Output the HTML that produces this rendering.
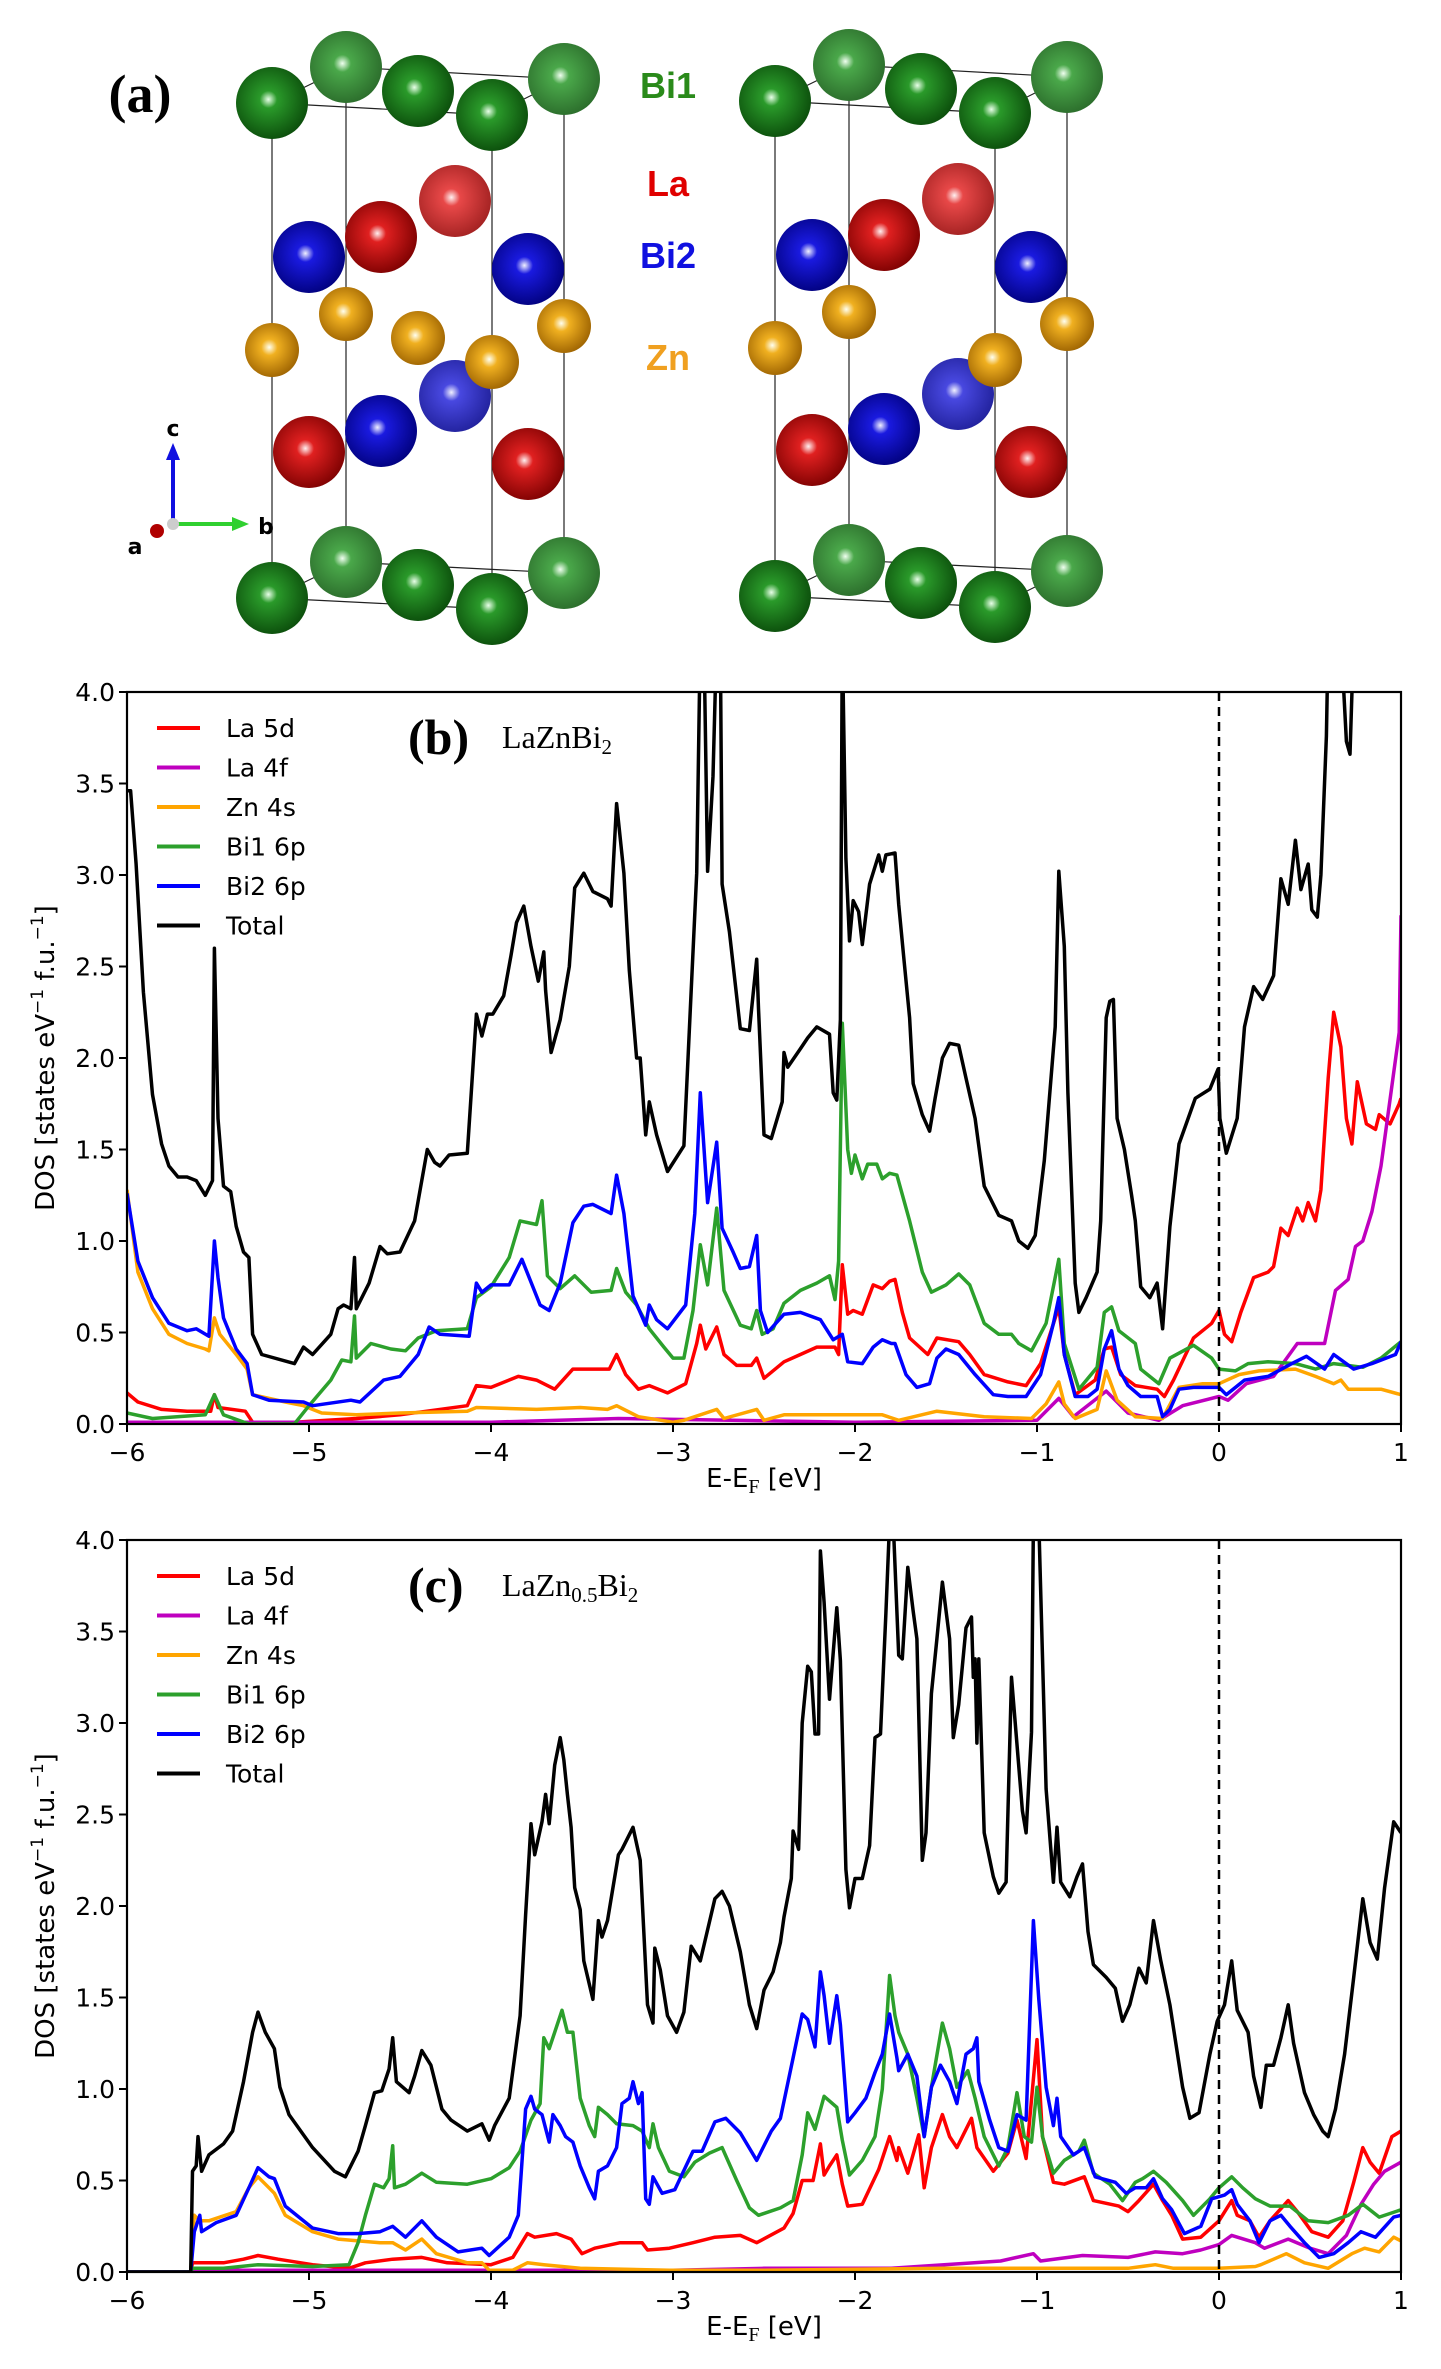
<!DOCTYPE html>
<html><head><meta charset="utf-8"><style>
html,body{margin:0;padding:0;background:#fff;}
svg{display:block;}
text{font-family:"DejaVu Sans","Liberation Sans",sans-serif;}
</style></head><body>
<svg id="fig" width="1441" height="2369" viewBox="0 0 1441 2369" xmlns="http://www.w3.org/2000/svg">
<defs>
<radialGradient id="gDG" cx="0.45" cy="0.45" r="0.6"><stop offset="0" stop-color="#e8ffe8"/><stop offset="0.2" stop-color="#2a9a2a"/><stop offset="1" stop-color="#0a4a0a"/></radialGradient>
<radialGradient id="gLG" cx="0.45" cy="0.45" r="0.6"><stop offset="0" stop-color="#f0fff0"/><stop offset="0.2" stop-color="#4aa84a"/><stop offset="1" stop-color="#2a6a2a"/></radialGradient>
<radialGradient id="gR" cx="0.45" cy="0.45" r="0.6"><stop offset="0" stop-color="#fff0f0"/><stop offset="0.2" stop-color="#e02020"/><stop offset="1" stop-color="#7a0000"/></radialGradient>
<radialGradient id="gLR" cx="0.45" cy="0.45" r="0.6"><stop offset="0" stop-color="#fff0f0"/><stop offset="0.2" stop-color="#e84848"/><stop offset="1" stop-color="#a02020"/></radialGradient>
<radialGradient id="gB" cx="0.45" cy="0.45" r="0.6"><stop offset="0" stop-color="#f0f0ff"/><stop offset="0.2" stop-color="#1a1ae0"/><stop offset="1" stop-color="#00007a"/></radialGradient>
<radialGradient id="gLB" cx="0.45" cy="0.45" r="0.6"><stop offset="0" stop-color="#f0f0ff"/><stop offset="0.2" stop-color="#4848e0"/><stop offset="1" stop-color="#20209a"/></radialGradient>
<radialGradient id="gZ" cx="0.45" cy="0.45" r="0.6"><stop offset="0" stop-color="#fffff0"/><stop offset="0.25" stop-color="#f0b020"/><stop offset="1" stop-color="#9a6000"/></radialGradient>
<clipPath id="clipB"><rect x="127" y="692" width="1274" height="732"/></clipPath>
<clipPath id="clipC"><rect x="127" y="1540" width="1274" height="732"/></clipPath>
</defs>
<g id="panelA"></g>
<g id="panelB"></g>
<g id="panelC"></g>
</svg>
<script>
// ---------- Panel (b) LaZnBi2 data: [energy eV, DOS] ----------
const bTotal=[[-6,3.46],[-5.98,3.46],[-5.95,3.06],[-5.91,2.36],[-5.86,1.8],[-5.81,1.53],[-5.77,1.41],[-5.72,1.35],[-5.67,1.35],[-5.62,1.33],[-5.57,1.25],[-5.53,1.33],[-5.52,2.6],[-5.5,1.67],[-5.47,1.3],[-5.43,1.27],[-5.4,1.08],[-5.36,0.94],[-5.33,0.91],[-5.31,0.49],[-5.26,0.38],[-5.08,0.33],[-5.03,0.42],[-4.98,0.38],[-4.88,0.49],[-4.84,0.63],[-4.81,0.65],[-4.77,0.63],[-4.75,0.91],[-4.74,0.63],[-4.67,0.77],[-4.61,0.97],[-4.57,0.93],[-4.5,0.94],[-4.42,1.11],[-4.35,1.5],[-4.31,1.43],[-4.28,1.41],[-4.23,1.47],[-4.13,1.48],[-4.08,2.24],[-4.05,2.12],[-4.02,2.24],[-3.99,2.24],[-3.93,2.34],[-3.89,2.56],[-3.86,2.74],[-3.82,2.83],[-3.78,2.61],[-3.74,2.42],[-3.71,2.58],[-3.7,2.37],[-3.67,2.03],[-3.62,2.21],[-3.57,2.5],[-3.54,2.93],[-3.49,3.01],[-3.44,2.91],[-3.36,2.87],[-3.34,2.83],[-3.31,3.39],[-3.27,3.01],[-3.24,2.48],[-3.2,2.0],[-3.18,2.0],[-3.15,1.58],[-3.13,1.76],[-3.09,1.58],[-3.03,1.38],[-2.94,1.52],[-2.92,1.95],[-2.87,3.01],[-2.85,4.3],[-2.83,4.3],[-2.81,3.02],[-2.78,3.54],[-2.76,4.3],[-2.74,4.3],[-2.73,2.95],[-2.69,2.69],[-2.63,2.16],[-2.58,2.15],[-2.54,2.54],[-2.53,2.27],[-2.5,1.58],[-2.46,1.56],[-2.4,1.76],[-2.39,2.03],[-2.37,1.95],[-2.3,2.05],[-2.26,2.11],[-2.21,2.17],[-2.14,2.13],[-2.12,1.81],[-2.1,1.77],[-2.08,2.21],[-2.07,4.3],[-2.05,3.09],[-2.03,2.64],[-2.01,2.86],[-1.98,2.8],[-1.96,2.62],[-1.92,2.95],[-1.87,3.11],[-1.85,3.02],[-1.83,3.11],[-1.78,3.12],[-1.76,2.84],[-1.73,2.53],[-1.7,2.22],[-1.68,1.86],[-1.63,1.69],[-1.59,1.6],[-1.56,1.78],[-1.52,2.0],[-1.48,2.08],[-1.43,2.07],[-1.39,1.89],[-1.34,1.67],[-1.29,1.3],[-1.21,1.14],[-1.14,1.11],[-1.1,1.0],[-1.05,0.96],[-1.01,1.03],[-0.96,1.44],[-0.9,2.17],[-0.88,3.02],[-0.85,2.61],[-0.83,1.81],[-0.79,0.77],[-0.77,0.61],[-0.73,0.69],[-0.67,0.83],[-0.65,1.11],[-0.62,2.22],[-0.6,2.31],[-0.58,2.32],[-0.56,1.67],[-0.52,1.5],[-0.48,1.25],[-0.46,1.11],[-0.43,0.75],[-0.38,0.69],[-0.34,0.77],[-0.31,0.52],[-0.27,1.08],[-0.22,1.53],[-0.18,1.64],[-0.13,1.78],[-0.05,1.83],[-0.005,1.94],[0.005,1.67],[0.04,1.48],[0.1,1.67],[0.14,2.17],[0.19,2.39],[0.24,2.32],[0.3,2.45],[0.34,2.98],[0.38,2.84],[0.42,3.19],[0.45,2.92],[0.49,3.06],[0.51,2.81],[0.54,2.77],[0.56,3.0],[0.59,3.76],[0.6,4.3],[0.67,4.3],[0.7,3.73],[0.72,3.66],[0.74,4.3],[1,4.3]];
const bLa5d=[[-6,0.17],[-5.94,0.12],[-5.81,0.08],[-5.67,0.07],[-5.54,0.07],[-5.52,0.16],[-5.5,0.09],[-5.35,0.07],[-5.31,0.01],[-5.08,0.01],[-4.74,0.03],[-4.5,0.05],[-4.13,0.1],[-4.08,0.21],[-4.0,0.2],[-3.85,0.26],[-3.75,0.24],[-3.65,0.19],[-3.55,0.3],[-3.35,0.3],[-3.31,0.38],[-3.26,0.27],[-3.19,0.19],[-3.13,0.21],[-3.03,0.17],[-2.93,0.22],[-2.87,0.44],[-2.85,0.54],[-2.82,0.41],[-2.76,0.53],[-2.72,0.38],[-2.65,0.32],[-2.57,0.32],[-2.54,0.36],[-2.5,0.25],[-2.39,0.34],[-2.3,0.38],[-2.21,0.42],[-2.11,0.42],[-2.09,0.38],[-2.07,0.87],[-2.04,0.6],[-2.01,0.62],[-1.96,0.6],[-1.9,0.76],[-1.85,0.74],[-1.81,0.78],[-1.78,0.79],[-1.74,0.61],[-1.7,0.47],[-1.6,0.38],[-1.55,0.47],[-1.43,0.45],[-1.37,0.38],[-1.29,0.27],[-1.16,0.23],[-1.06,0.21],[-0.98,0.33],[-0.88,0.64],[-0.85,0.38],[-0.79,0.16],[-0.68,0.24],[-0.63,0.41],[-0.59,0.42],[-0.54,0.27],[-0.46,0.21],[-0.34,0.19],[-0.3,0.15],[-0.25,0.24],[-0.14,0.47],[-0.04,0.55],[0.0,0.62],[0.03,0.49],[0.07,0.45],[0.12,0.61],[0.19,0.8],[0.27,0.83],[0.3,0.86],[0.34,1.07],[0.38,1.03],[0.43,1.18],[0.46,1.11],[0.49,1.21],[0.53,1.11],[0.56,1.28],[0.6,1.89],[0.63,2.25],[0.67,2.06],[0.7,1.67],[0.73,1.53],[0.76,1.87],[0.81,1.64],[0.86,1.61],[0.88,1.69],[0.94,1.64],[0.99,1.75],[1.0,1.78]];
const bLa4f=[[-6,0.01],[-4,0.01],[-3.3,0.03],[-2.0,0.01],[-1.0,0.02],[-0.88,0.14],[-0.8,0.04],[-0.62,0.18],[-0.5,0.06],[-0.33,0.02],[-0.2,0.1],[0,0.15],[0.05,0.13],[0.15,0.22],[0.3,0.26],[0.43,0.44],[0.58,0.44],[0.64,0.73],[0.71,0.79],[0.75,0.97],[0.79,1.0],[0.84,1.16],[0.89,1.41],[0.96,1.92],[0.99,2.14],[1.0,2.78]];
const bZn4s=[[-6,1.28],[-5.94,0.83],[-5.86,0.63],[-5.77,0.49],[-5.67,0.44],[-5.57,0.41],[-5.55,0.4],[-5.52,0.58],[-5.49,0.49],[-5.4,0.38],[-5.34,0.3],[-5.31,0.16],[-5.13,0.12],[-5.03,0.1],[-4.93,0.06],[-4.74,0.05],[-4.5,0.06],[-4.13,0.07],[-4.08,0.09],[-3.75,0.08],[-3.51,0.09],[-3.36,0.08],[-3.31,0.1],[-3.19,0.04],[-3.0,0.01],[-2.94,0.02],[-2.76,0.08],[-2.72,0.03],[-2.54,0.08],[-2.5,0.02],[-2.39,0.05],[-1.85,0.05],[-1.76,0.02],[-1.55,0.07],[-1.29,0.04],[-1.03,0.03],[-0.95,0.11],[-0.88,0.23],[-0.85,0.11],[-0.79,0.03],[-0.67,0.08],[-0.62,0.29],[-0.56,0.13],[-0.46,0.04],[-0.31,0.03],[-0.22,0.2],[-0.09,0.22],[0.0,0.22],[0.11,0.27],[0.22,0.29],[0.42,0.3],[0.53,0.26],[0.63,0.22],[0.67,0.24],[0.71,0.19],[0.89,0.19],[1.0,0.16]];
const bBi1=[[-6,0.06],[-5.86,0.03],[-5.57,0.05],[-5.52,0.16],[-5.47,0.05],[-5.33,0.0],[-5.08,0.0],[-5.0,0.1],[-4.88,0.24],[-4.82,0.35],[-4.77,0.34],[-4.75,0.59],[-4.74,0.36],[-4.66,0.44],[-4.55,0.41],[-4.47,0.4],[-4.4,0.47],[-4.3,0.51],[-4.13,0.52],[-4.08,0.69],[-4.0,0.75],[-3.9,0.91],[-3.84,1.11],[-3.75,1.09],[-3.72,1.22],[-3.69,0.81],[-3.62,0.74],[-3.54,0.81],[-3.45,0.72],[-3.34,0.73],[-3.31,0.85],[-3.26,0.72],[-3.2,0.65],[-3.13,0.52],[-3.05,0.42],[-3.0,0.36],[-2.94,0.36],[-2.89,0.62],[-2.85,0.98],[-2.81,0.76],[-2.76,1.18],[-2.72,0.73],[-2.63,0.54],[-2.57,0.52],[-2.54,0.62],[-2.51,0.49],[-2.45,0.52],[-2.39,0.66],[-2.3,0.73],[-2.21,0.77],[-2.14,0.81],[-2.11,0.68],[-2.09,0.89],[-2.07,2.19],[-2.04,1.5],[-2.02,1.37],[-2.0,1.47],[-1.96,1.34],[-1.93,1.42],[-1.88,1.42],[-1.85,1.34],[-1.81,1.37],[-1.77,1.36],[-1.7,1.11],[-1.63,0.83],[-1.58,0.72],[-1.5,0.76],[-1.43,0.82],[-1.37,0.76],[-1.29,0.55],[-1.21,0.49],[-1.14,0.49],[-1.1,0.44],[-1.03,0.4],[-0.95,0.55],[-0.88,0.9],[-0.85,0.44],[-0.77,0.19],[-0.67,0.31],[-0.63,0.61],[-0.59,0.64],[-0.55,0.51],[-0.46,0.44],[-0.43,0.3],[-0.33,0.22],[-0.27,0.36],[-0.14,0.43],[-0.04,0.36],[0.0,0.3],[0.09,0.29],[0.16,0.33],[0.27,0.34],[0.42,0.33],[0.53,0.3],[0.63,0.33],[0.79,0.31],[0.89,0.36],[1.0,0.45]];
const bBi2=[[-6,1.26],[-5.94,0.89],[-5.86,0.69],[-5.77,0.55],[-5.67,0.51],[-5.62,0.52],[-5.55,0.48],[-5.52,1.0],[-5.5,0.8],[-5.47,0.58],[-5.4,0.41],[-5.34,0.33],[-5.31,0.16],[-5.22,0.13],[-5.03,0.12],[-4.98,0.1],[-4.77,0.13],[-4.72,0.12],[-4.59,0.24],[-4.5,0.26],[-4.4,0.38],[-4.34,0.53],[-4.28,0.49],[-4.12,0.48],[-4.08,0.77],[-4.05,0.72],[-4.0,0.76],[-3.9,0.76],[-3.83,0.9],[-3.73,0.65],[-3.68,0.62],[-3.62,0.77],[-3.55,1.1],[-3.49,1.19],[-3.44,1.2],[-3.34,1.15],[-3.31,1.36],[-3.27,1.15],[-3.22,0.7],[-3.15,0.54],[-3.13,0.65],[-3.09,0.57],[-3.03,0.52],[-2.93,0.65],[-2.88,1.15],[-2.85,1.81],[-2.81,1.21],[-2.76,1.54],[-2.73,1.07],[-2.67,0.94],[-2.63,0.85],[-2.58,0.86],[-2.54,1.03],[-2.52,0.62],[-2.48,0.5],[-2.39,0.6],[-2.3,0.61],[-2.19,0.57],[-2.12,0.46],[-2.07,0.49],[-2.04,0.34],[-1.96,0.33],[-1.9,0.42],[-1.85,0.46],[-1.8,0.44],[-1.78,0.44],[-1.72,0.27],[-1.66,0.2],[-1.59,0.22],[-1.55,0.36],[-1.5,0.41],[-1.43,0.38],[-1.34,0.27],[-1.24,0.16],[-1.16,0.15],[-1.06,0.15],[-0.98,0.27],[-0.91,0.55],[-0.88,0.69],[-0.85,0.38],[-0.79,0.15],[-0.72,0.15],[-0.67,0.19],[-0.63,0.41],[-0.59,0.51],[-0.55,0.3],[-0.5,0.21],[-0.43,0.15],[-0.34,0.15],[-0.31,0.04],[-0.27,0.08],[-0.22,0.19],[-0.14,0.2],[0.0,0.2],[0.04,0.16],[0.14,0.24],[0.27,0.26],[0.4,0.33],[0.48,0.37],[0.58,0.3],[0.63,0.38],[0.74,0.3],[0.84,0.33],[0.97,0.38],[1.0,0.45]];
// ---------- Panel (c) LaZn0.5Bi2 data ----------
const cTotal=[[-6,0],[-5.65,0],[-5.64,0.55],[-5.62,0.58],[-5.61,0.74],[-5.59,0.55],[-5.55,0.64],[-5.47,0.7],[-5.42,0.77],[-5.36,1.04],[-5.31,1.31],[-5.28,1.42],[-5.24,1.31],[-5.19,1.22],[-5.16,1.01],[-5.11,0.86],[-4.98,0.68],[-4.86,0.55],[-4.8,0.52],[-4.73,0.66],[-4.69,0.8],[-4.64,0.98],[-4.6,0.99],[-4.56,1.11],[-4.54,1.28],[-4.52,1.04],[-4.45,0.98],[-4.42,1.07],[-4.38,1.21],[-4.33,1.13],[-4.27,0.89],[-4.22,0.83],[-4.13,0.77],[-4.05,0.81],[-4.01,0.72],[-3.98,0.8],[-3.9,0.95],[-3.84,1.4],[-3.81,1.95],[-3.78,2.45],[-3.76,2.28],[-3.72,2.46],[-3.7,2.61],[-3.68,2.45],[-3.65,2.77],[-3.62,2.92],[-3.6,2.8],[-3.58,2.61],[-3.56,2.43],[-3.54,2.1],[-3.51,1.98],[-3.49,1.7],[-3.44,1.49],[-3.41,1.92],[-3.39,1.83],[-3.36,1.92],[-3.3,2.28],[-3.28,2.31],[-3.22,2.43],[-3.18,2.25],[-3.14,1.46],[-3.11,1.36],[-3.1,1.77],[-3.07,1.65],[-3.03,1.4],[-2.98,1.31],[-2.94,1.42],[-2.9,1.78],[-2.85,1.7],[-2.77,2.04],[-2.73,2.08],[-2.69,2.0],[-2.63,1.75],[-2.58,1.46],[-2.54,1.33],[-2.5,1.54],[-2.45,1.64],[-2.41,1.8],[-2.39,1.94],[-2.35,2.15],[-2.34,2.41],[-2.31,2.31],[-2.29,3.0],[-2.26,3.31],[-2.24,3.28],[-2.22,2.94],[-2.2,2.94],[-2.19,3.94],[-2.17,3.66],[-2.14,3.13],[-2.1,3.63],[-2.08,3.34],[-2.05,2.2],[-2.03,1.99],[-2.0,2.15],[-1.96,2.15],[-1.92,2.33],[-1.89,2.92],[-1.86,2.94],[-1.83,3.6],[-1.81,4.1],[-1.79,4.1],[-1.76,3.37],[-1.74,3.35],[-1.71,3.85],[-1.68,3.61],[-1.66,3.46],[-1.63,2.25],[-1.61,2.4],[-1.58,3.16],[-1.55,3.46],[-1.52,3.77],[-1.48,3.46],[-1.46,2.92],[-1.43,3.1],[-1.39,3.52],[-1.36,3.58],[-1.35,3.25],[-1.34,3.35],[-1.33,2.89],[-1.32,3.35],[-1.29,2.4],[-1.24,2.16],[-1.21,2.07],[-1.17,2.13],[-1.14,3.25],[-1.08,2.52],[-1.06,2.4],[-1.03,2.95],[-1.02,4.1],[-0.99,4.1],[-0.95,2.64],[-0.91,2.13],[-0.89,2.43],[-0.87,2.13],[-0.82,2.05],[-0.78,2.16],[-0.75,2.23],[-0.72,1.86],[-0.69,1.68],[-0.62,1.61],[-0.57,1.55],[-0.53,1.37],[-0.49,1.46],[-0.44,1.66],[-0.4,1.58],[-0.36,1.92],[-0.32,1.7],[-0.27,1.46],[-0.2,1.01],[-0.16,0.84],[-0.11,0.87],[-0.05,1.19],[-0.01,1.37],[0.03,1.46],[0.07,1.7],[0.1,1.43],[0.16,1.31],[0.19,1.07],[0.23,0.9],[0.26,1.13],[0.3,1.13],[0.34,1.28],[0.38,1.46],[0.41,1.25],[0.47,0.98],[0.52,0.86],[0.57,0.77],[0.6,0.74],[0.64,0.89],[0.69,1.19],[0.74,1.61],[0.79,2.04],[0.83,1.8],[0.87,1.71],[0.91,2.1],[0.96,2.46],[1.0,2.4]];
const cLa5d=[[-6,0],[-5.65,0],[-5.64,0.05],[-5.47,0.05],[-5.36,0.07],[-5.28,0.09],[-5.17,0.07],[-4.98,0.04],[-4.78,0.02],[-4.69,0.05],[-4.54,0.07],[-4.38,0.08],[-4.24,0.05],[-4.0,0.04],[-3.88,0.08],[-3.8,0.21],[-3.76,0.19],[-3.64,0.21],[-3.56,0.18],[-3.5,0.1],[-3.43,0.13],[-3.29,0.16],[-3.17,0.16],[-3.14,0.12],[-3.02,0.13],[-2.89,0.16],[-2.77,0.19],[-2.63,0.2],[-2.54,0.16],[-2.39,0.24],[-2.34,0.32],[-2.29,0.5],[-2.23,0.5],[-2.19,0.7],[-2.17,0.53],[-2.14,0.58],[-2.1,0.64],[-2.07,0.48],[-2.04,0.36],[-1.96,0.37],[-1.87,0.56],[-1.81,0.74],[-1.77,0.61],[-1.76,0.68],[-1.71,0.54],[-1.65,0.75],[-1.62,0.46],[-1.58,0.68],[-1.52,0.86],[-1.48,0.74],[-1.44,0.68],[-1.36,0.84],[-1.33,0.68],[-1.24,0.55],[-1.16,0.65],[-1.11,0.83],[-1.06,0.62],[-1.0,1.27],[-0.97,0.74],[-0.91,0.49],[-0.85,0.48],[-0.74,0.52],[-0.69,0.39],[-0.55,0.36],[-0.5,0.33],[-0.44,0.39],[-0.36,0.48],[-0.31,0.39],[-0.26,0.31],[-0.2,0.18],[-0.1,0.19],[0.0,0.28],[0.07,0.39],[0.1,0.31],[0.17,0.28],[0.22,0.19],[0.28,0.28],[0.38,0.39],[0.43,0.33],[0.51,0.22],[0.6,0.19],[0.68,0.28],[0.74,0.49],[0.79,0.68],[0.83,0.6],[0.88,0.54],[0.95,0.74],[1.0,0.77]];
const cLa4f=[[-6,0],[-5.65,0],[-5.6,0.01],[-3,0.01],[-2.5,0.02],[-1.8,0.02],[-1.2,0.06],[-1.02,0.1],[-0.98,0.06],[-0.75,0.09],[-0.5,0.08],[-0.35,0.11],[-0.2,0.1],[-0.1,0.12],[0,0.15],[0.07,0.2],[0.2,0.16],[0.25,0.13],[0.38,0.18],[0.5,0.13],[0.6,0.1],[0.7,0.2],[0.78,0.37],[0.85,0.48],[0.91,0.55],[1.0,0.6]];
const cZn4s=[[-6,0],[-5.65,0],[-5.63,0.31],[-5.6,0.28],[-5.55,0.28],[-5.4,0.33],[-5.33,0.46],[-5.28,0.52],[-5.22,0.46],[-5.19,0.43],[-5.13,0.31],[-4.98,0.22],[-4.84,0.18],[-4.61,0.16],[-4.54,0.16],[-4.47,0.12],[-4.38,0.18],[-4.3,0.1],[-4.13,0.05],[-4.05,0.05],[-4.01,0.01],[-3.88,0.01],[-3.8,0.05],[-3.71,0.04],[-3.51,0.02],[-3.02,0.01],[-2.5,0.01],[-1.5,0.02],[-1.0,0.02],[-0.5,0.02],[-0.35,0.04],[-0.25,0.02],[0,0.02],[0.2,0.03],[0.23,0.04],[0.37,0.1],[0.47,0.05],[0.6,0.02],[0.73,0.1],[0.8,0.13],[0.88,0.11],[0.96,0.19],[1.0,0.17]];
const cBi1=[[-6,0],[-5.65,0],[-5.64,0.02],[-5.47,0.02],[-5.28,0.04],[-4.98,0.03],[-4.78,0.04],[-4.73,0.16],[-4.69,0.31],[-4.64,0.48],[-4.59,0.46],[-4.56,0.51],[-4.54,0.69],[-4.53,0.46],[-4.47,0.48],[-4.38,0.54],[-4.3,0.49],[-4.13,0.48],[-4.0,0.51],[-3.9,0.57],[-3.84,0.66],[-3.78,0.83],[-3.73,0.92],[-3.71,1.28],[-3.68,1.22],[-3.65,1.31],[-3.61,1.43],[-3.58,1.31],[-3.55,1.31],[-3.51,0.95],[-3.46,0.8],[-3.43,0.74],[-3.41,0.9],[-3.36,0.86],[-3.31,0.81],[-3.22,0.8],[-3.17,0.77],[-3.13,0.68],[-3.11,0.81],[-3.08,0.68],[-3.02,0.55],[-2.94,0.52],[-2.88,0.6],[-2.8,0.65],[-2.73,0.68],[-2.65,0.5],[-2.58,0.35],[-2.53,0.31],[-2.41,0.35],[-2.34,0.39],[-2.29,0.64],[-2.26,0.87],[-2.22,0.78],[-2.17,0.96],[-2.1,0.9],[-2.07,0.72],[-2.03,0.53],[-1.96,0.61],[-1.89,0.74],[-1.85,1.0],[-1.81,1.62],[-1.78,1.4],[-1.76,1.31],[-1.71,1.19],[-1.66,0.95],[-1.62,0.74],[-1.58,1.01],[-1.52,1.36],[-1.48,1.22],[-1.44,1.01],[-1.38,1.1],[-1.34,0.95],[-1.29,0.74],[-1.21,0.58],[-1.16,0.68],[-1.11,0.98],[-1.07,0.74],[-1.03,0.71],[-1.0,1.01],[-0.97,0.74],[-0.91,0.54],[-0.85,0.61],[-0.77,0.66],[-0.74,0.72],[-0.69,0.54],[-0.6,0.48],[-0.53,0.39],[-0.46,0.49],[-0.42,0.51],[-0.36,0.55],[-0.29,0.49],[-0.2,0.39],[-0.14,0.31],[-0.05,0.4],[0.0,0.46],[0.07,0.52],[0.13,0.46],[0.2,0.4],[0.28,0.36],[0.39,0.36],[0.49,0.28],[0.6,0.27],[0.71,0.31],[0.79,0.37],[0.88,0.3],[1.0,0.34]];
const cBi2=[[-6,0],[-5.65,0],[-5.63,0.22],[-5.6,0.31],[-5.59,0.22],[-5.51,0.27],[-5.4,0.31],[-5.33,0.46],[-5.28,0.57],[-5.22,0.52],[-5.19,0.51],[-5.13,0.36],[-4.98,0.24],[-4.84,0.21],[-4.73,0.21],[-4.61,0.22],[-4.54,0.25],[-4.47,0.19],[-4.38,0.28],[-4.3,0.19],[-4.18,0.11],[-4.05,0.13],[-4.01,0.09],[-3.9,0.19],[-3.85,0.31],[-3.81,0.89],[-3.78,0.96],[-3.76,0.89],[-3.72,0.86],[-3.68,0.71],[-3.66,0.86],[-3.62,0.8],[-3.59,0.74],[-3.55,0.71],[-3.51,0.58],[-3.46,0.46],[-3.43,0.4],[-3.41,0.55],[-3.36,0.58],[-3.31,0.68],[-3.28,0.92],[-3.24,0.95],[-3.22,1.04],[-3.19,0.92],[-3.17,0.98],[-3.15,0.4],[-3.13,0.37],[-3.11,0.52],[-3.06,0.43],[-2.99,0.45],[-2.89,0.66],[-2.84,0.66],[-2.77,0.82],[-2.71,0.84],[-2.63,0.76],[-2.54,0.61],[-2.46,0.77],[-2.41,0.84],[-2.34,1.17],[-2.29,1.41],[-2.26,1.38],[-2.22,1.23],[-2.19,1.64],[-2.17,1.51],[-2.14,1.25],[-2.1,1.51],[-2.08,1.35],[-2.04,0.82],[-2.0,0.87],[-1.94,0.95],[-1.89,1.09],[-1.85,1.19],[-1.81,1.41],[-1.77,1.17],[-1.76,1.1],[-1.71,1.19],[-1.66,1.07],[-1.62,0.74],[-1.58,1.01],[-1.53,1.13],[-1.48,1.04],[-1.44,0.92],[-1.39,1.19],[-1.35,1.22],[-1.33,1.28],[-1.32,1.04],[-1.26,0.83],[-1.21,0.68],[-1.16,0.66],[-1.11,0.86],[-1.06,0.83],[-1.02,1.92],[-0.99,1.49],[-0.95,1.01],[-0.91,0.8],[-0.89,0.95],[-0.87,0.74],[-0.8,0.64],[-0.74,0.68],[-0.68,0.52],[-0.57,0.49],[-0.51,0.43],[-0.46,0.46],[-0.4,0.46],[-0.36,0.51],[-0.31,0.4],[-0.26,0.34],[-0.19,0.21],[-0.1,0.25],[-0.04,0.4],[0.03,0.42],[0.07,0.45],[0.1,0.37],[0.17,0.28],[0.22,0.16],[0.28,0.28],[0.34,0.31],[0.39,0.25],[0.47,0.16],[0.55,0.08],[0.63,0.1],[0.71,0.16],[0.78,0.22],[0.86,0.19],[0.96,0.3],[1.0,0.31]];
// ---------- axis data ----------
const xTicks=[-6,-5,-4,-3,-2,-1,0,1];
const yTicks=[0,0.5,1.0,1.5,2.0,2.5,3.0,3.5,4.0];
const legendLabels=["La 5d","La 4f","Zn 4s","Bi1 6p","Bi2 6p","Total"];
const seriesColors=["#ff0000","#bf00bf","#ffa500","#2ca02c","#0000ff","#000000"];

const NS="http://www.w3.org/2000/svg";
const SERIF='font-family:"Liberation Serif","DejaVu Serif",serif;';
function mk(tag,attrs,parent){const e=document.createElementNS(NS,tag);for(const k in attrs)e.setAttribute(k,attrs[k]);parent.appendChild(e);return e;}
const X0=127,X1=1401,XMIN=-6,XMAX=1;
function xs(v){return X0+(v-XMIN)/(XMAX-XMIN)*(X1-X0);}

function drawPanel(g,top,bottom,series,clipId,label,formula){
  const ys=v=>bottom-(v/4)*(bottom-top);
  const sg=mk('g',{'clip-path':'url(#'+clipId+')'},g);
  
  
  series.forEach((s,i)=>{
    const d=s.map((p,j)=>(j?'L':'M')+xs(p[0]).toFixed(1)+','+ys(p[1]).toFixed(1)).join('');
    const p=mk('path',{d:d,fill:'none',stroke:seriesColors[i],'stroke-width':3.5,'stroke-linejoin':'round'},sg);
    
    
  });
  const f=mk('line',{x1:xs(0),x2:xs(0),y1:top,y2:bottom,stroke:'#000','stroke-width':2.5,'stroke-dasharray':'9,6'},g);
  
  
  const fr=mk('rect',{x:X0,y:top,width:X1-X0,height:bottom-top,fill:'none',stroke:'#000','stroke-width':2.2},g);
  
  
  xTicks.forEach(t=>{
    mk('line',{x1:xs(t),x2:xs(t),y1:bottom,y2:bottom+8,stroke:'#000','stroke-width':2},g);
    const tx=mk('text',{x:xs(t),y:bottom+37,'font-size':25,'text-anchor':'middle'},g);
    tx.textContent=(t<0?'\u2212'+(-t):String(t));
    
    
  });
  yTicks.forEach(t=>{
    mk('line',{x1:X0-8,x2:X0,y1:ys(t),y2:ys(t),stroke:'#000','stroke-width':2},g);
    const tx=mk('text',{x:X0-12,y:ys(t)+9,'font-size':25,'text-anchor':'end'},g);
    tx.textContent=t.toFixed(1);
    
    
  });
  const xl=mk('text',{x:764,y:bottom+63,'font-size':26,'text-anchor':'middle'},g);
  
  
  xl.innerHTML='E-E<tspan style=\''+SERIF+'\' font-size="20" dy="6">F</tspan><tspan dy="-6"> [eV]</tspan>';
  const cy=(top+bottom)/2;
  const yl=mk('text',{x:0,y:0,'font-size':26,'text-anchor':'middle',transform:'translate(54,'+cy+') rotate(-90)'},g);
  
  
  yl.innerHTML='DOS [states eV<tspan font-size="17" dy="-11">\u22121</tspan><tspan dy="11"> f.u.</tspan><tspan font-size="17" dy="-11">\u22121</tspan><tspan dy="11">]</tspan>';
  legendLabels.forEach((l,i)=>{
    const y=top+36+i*39.5;
    const ln=mk('line',{x1:157,x2:200,y1:y,y2:y,stroke:seriesColors[i],'stroke-width':4},g);
    
    
    const t=mk('text',{x:226,y:y+9,'font-size':25},g);
    t.textContent=l;
    
    
  });
  const ti=mk('text',{x:408,y:top+62,'font-size':50,'font-weight':'bold',style:SERIF},g);
  ti.textContent=label;
  
  
  const fm=mk('text',{x:502,y:top+56,'font-size':32,style:SERIF},g);
  
  
  fm.innerHTML=formula;
}
drawPanel(document.getElementById('panelB'),692,1424,[bLa5d,bLa4f,bZn4s,bBi1,bBi2,bTotal],'clipB','(b)','LaZnBi<tspan font-size="21" dy="6">2</tspan>');
drawPanel(document.getElementById('panelC'),1540,2272,[cLa5d,cLa4f,cZn4s,cBi1,cBi2,cTotal],'clipC','(c)','LaZn<tspan font-size="21" dy="6">0.5</tspan><tspan dy="-6">Bi</tspan><tspan font-size="21" dy="6">2</tspan>');

// ---------- Panel (a) crystal structure ----------
const A=document.getElementById('panelA');
function cell(dx,dy,zn){
  const g=mk('g',{},A);
  
  
  [[272,103,272,598],[346,67,346,562],[492,115,492,609],[564,79,564,573],
   [272,103,492,115],[346,67,564,79],[272,598,492,609],[346,562,564,573],
   [272,103,346,67],[492,115,564,79],[272,598,346,562],[492,609,564,573]].forEach(l=>{
    mk('line',{x1:l[0]+dx,y1:l[1]+dy,x2:l[2]+dx,y2:l[3]+dy,stroke:'#222','stroke-width':1.2},g);
  });
  const atoms=[
    [346,67,36,'gLG'],[564,79,36,'gLG'],[418,91,36,'gDG'],[272,103,36,'gDG'],[492,115,36,'gDG'],
    [455,201,36,'gLR'],[381,237,36,'gR'],[309,257,36,'gB'],[528,269,36,'gB'],
    [346,314,27,'gZ'],[564,326,27,'gZ'],[418,338,27,'gZ'],[272,350,27,'gZ'],
    [455,396,36,'gLB'],[492,362,27,'gZ'],
    [381,431,36,'gB'],[309,452,36,'gR'],[528,464,36,'gR'],
    [346,562,36,'gLG'],[564,573,36,'gLG'],[418,585,36,'gDG'],[272,598,36,'gDG'],[492,609,36,'gDG']];
  atoms.forEach(a=>{
    if(!zn && a[0]===418 && a[3]==='gZ') return;
    const c=mk('circle',{cx:a[0]+dx,cy:a[1]+dy,r:a[2],fill:'url(#'+a[3]+')'},g);
    
    
  });
}
cell(0,0,true);
cell(503,-2,false);
const lab=mk('text',{x:140,y:112,'font-size':54,'font-weight':'bold',style:SERIF,'text-anchor':'middle'},A);
lab.textContent='(a)';


[['Bi1',98,'#2a8a1a'],['La',196,'#e00000'],['Bi2',268,'#1010e0'],['Zn',370,'#f0a020']].forEach(s=>{
  const t=mk('text',{x:668,y:s[1],'font-size':36,'font-weight':'bold','text-anchor':'middle',fill:s[2],style:'font-family:"Liberation Sans Narrow","Liberation Sans",sans-serif;'},A);
  t.textContent=s[0];
  
  
});
const ax=mk('g',{},A);


mk('line',{x1:173,y1:524,x2:173,y2:458,stroke:'#1010e0','stroke-width':4},ax);
mk('polygon',{points:'166,460 180,460 173,443',fill:'#1010e0'},ax);
mk('line',{x1:173,y1:524,x2:234,y2:524,stroke:'#30d030','stroke-width':4},ax);
mk('polygon',{points:'232,517 232,531 249,524',fill:'#30d030'},ax);
mk('circle',{cx:173,cy:524,r:6,fill:'#ccc'},ax);
mk('circle',{cx:157,cy:531,r:7,fill:'#b00000'},ax);
[['c',173,436],['b',266,534],['a',135,554]].forEach(s=>{
  const t=mk('text',{x:s[1],y:s[2],'font-size':22,'font-weight':'bold','text-anchor':'middle'},ax);
  t.textContent=s[0];
});
</script>
</body></html>
